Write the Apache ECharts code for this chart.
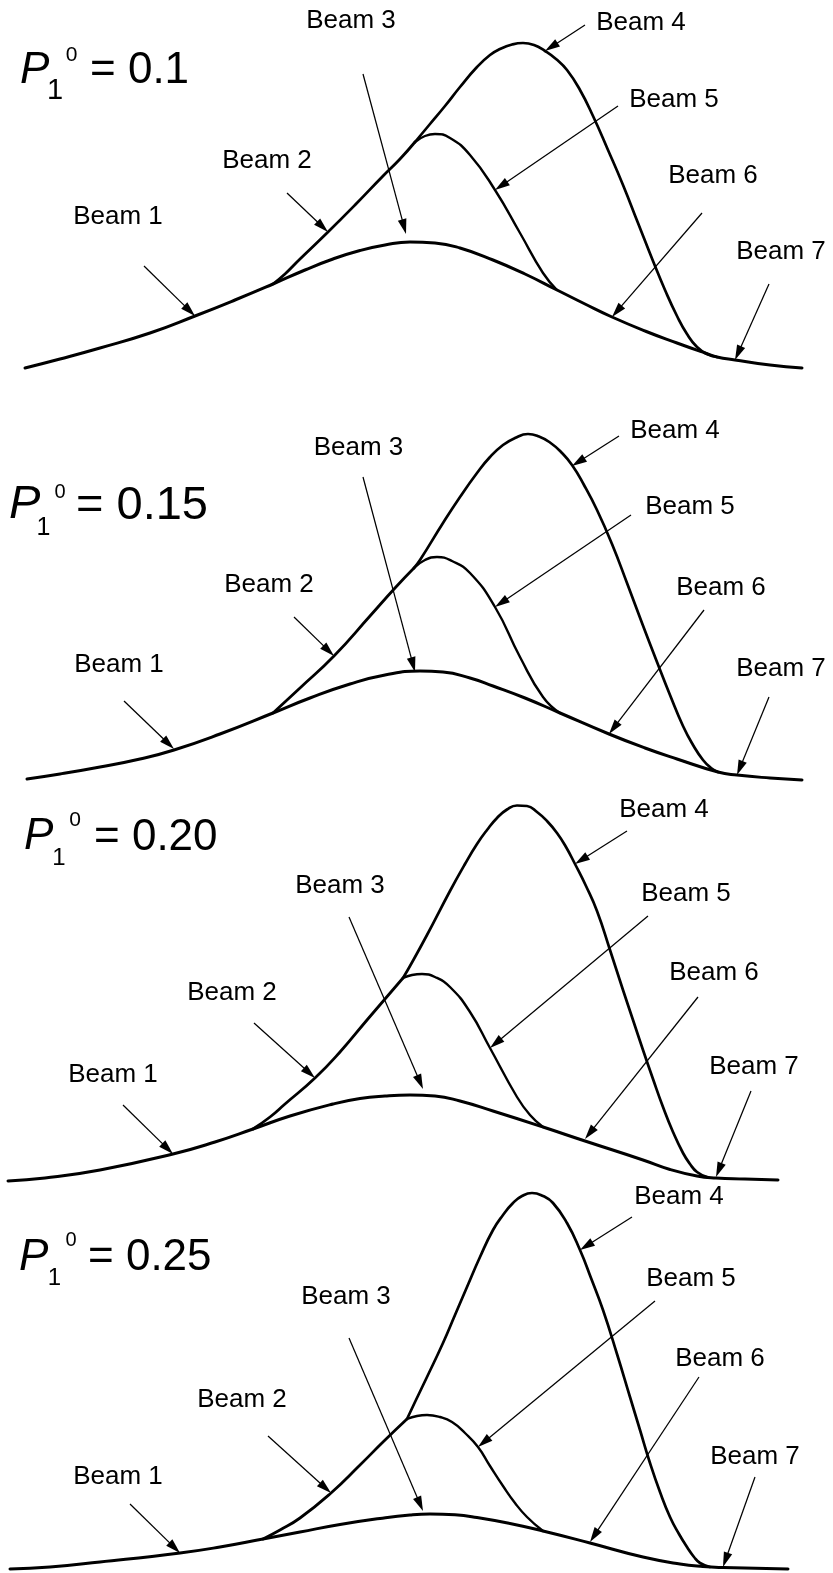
<!DOCTYPE html>
<html>
<head>
<meta charset="utf-8">
<title>Beam intensity profiles</title>
<script src="https://cdn.jsdelivr.net/npm/echarts@6/dist/echarts.min.js"></script>
<style>
  html, body { margin: 0; padding: 0; background: #ffffff; }
  #chart { width: 833px; height: 1573px; }
</style>
</head>
<body>
<div id="chart"></div>
<script>
// ---- data -------------------------------------------------------------
// Labels for the seven beams and the P1^0 value of each panel.
const beamNames = ['Beam 1', 'Beam 2', 'Beam 3', 'Beam 4', 'Beam 5', 'Beam 6', 'Beam 7'];
const pValues = ['0.1', '0.15', '0.20', '0.25'];

// Each curve: [position, intensity] pairs.
// broad = low wide envelope (beams 1, 3, 6, 7)
// rise  = shared flank leaving the envelope (beam 2) up to where beams 4 and 5 split
// tall  = beam 4 ridge, mid = beam 5 ridge
const broad010 = [[25,12],[60,21],[100,32],[150,47],[195,64],[235,80],[273,96],[305,110],[333,121],[360,129.5],[385,135],[410,138],[435,137],[460,132],[493,120],[525,106],[557,90],[585,76],[612,63],[645,49],[677,37],[705,27],[717,23],[735,20],[770,15],[802,12]];
const rise010 = [[273,96],[285,106],[300,121],[328,148],[355,175],[383,204],[400,221],[415,238]];
const tall010 = [[415,238],[430,256],[445,274],[460,293],[477,313],[490,325],[500,331],[512,335.5],[523,337],[534,335],[545,329],[556,321],[567,310],[580,290],[593,264],[608,230],[623,195],[638,157],[653,119],[665,90],[677,64],[687,46],[697,33],[707,26],[717,23]];
const mid010 = [[415,238],[425,244],[435,246],[450,242],[470,225],[495,190],[520,147],[543,107],[557,90]];

const broad015 = [[27,11],[60,16],[100,23],[140,31],[174,40],[220,56],[273,77],[310,92],[350,106],[385,115],[420,119],[443,118],[470,112],[493,104],[525,92],[560,77],[609,56],[645,42],[677,31],[718,18],[737,15],[770,12],[802,10]];
const rise015 = [[273,77],[300,102],[334,134],[370,174],[395,202],[414,222]];
const tall015 = [[414,222],[420,230],[443,267],[460,293],[477,317],[490,333],[503,345],[515,352],[528,356],[539,353.5],[550,347.5],[561,338],[572,325],[584,305],[597,280],[612,246],[627,207],[642,167],[657,128],[670,95],[683,64],[693,45],[703,30],[711,22],[718,18]];
const mid015 = [[414,222],[425,230],[437,233],[452,229],[470,217],[495,183],[520,133],[543,93],[560,77]];

const broad020 = [[8,4],[45,7],[100,15],[173,31],[215,43],[253,56],[290,69],[333,81],[360,86.5],[385,89],[410,90],[435,89],[460,84],[493,74],[543,58],[585,44],[643,25],[670,15.5],[697,9],[716,7],[745,6],[778,5]];
const rise020 = [[253,56],[270,68],[285,81],[315,107],[340,133],[367,165],[385,186],[403,207]];
const tall020 = [[403,207],[410,219],[427,250],[450,294],[465,321],[477,341],[487,355],[497,367],[507,375.5],[517,379.5],[527,379],[537,373],[547,364],[557,352],[566,338],[575,321],[586,299],[597,274],[610,235],[623,195],[633,165],[643,135],[653,106],[663,78],[673,53],[683,32],[690,21],[697,13],[707,8]];
const mid020 = [[403,207],[412,210],[422,211],[435,208],[450,198],[470,173],[490,137],[517,88],[530,70],[543,58]];

const broad025 = [[10,4],[50,6],[100,11],[180,20],[220,26],[263,34],[300,41],[340,48.5],[380,54.5],[410,58],[430,59],[455,58.2],[477,55.5],[510,49.5],[543,42],[590,30],[643,16],[680,9],[703,6.5],[723,5.5],[788,4]];
const rise025 = [[263,34],[280,43],[300,55],[331,80],[360,108],[383,131],[407,154]];
const tall025 = [[407,154],[415,171],[427,196],[443,230],[455,258],[467,286],[480,316],[493,343],[503,358],[513,370],[522,377],[532,380],[543,377],[553,370],[567,350],[580,323],[591,295],[603,263],[617,219],[630,176],[640,143],[650,110],[660,81],[670,56],[679,39],[687,26],[694,16],[700,10],[710,6]];
const mid025 = [[407,154],[417,157],[427,158],[440,156],[452,151],[465,140],[478,126],[490,107],[503,87],[515,70],[527,56],[543,42]];

// Pointer arrows, one per beam in beamNames order: [fromPos, fromInt, toPos, toInt].
const arrows010 = [[144,114,195,64],[287,187,328,148],[363,306,406,146],[585,355,545,329],[618,274,495,190],[702,167,612,63],[769,96,735,20]];
const arrows015 = [[124,89,174,41],[294,173,334,134],[363,313,415,118],[619,354,572,324],[631,275,495,183],[704,180,609,56],[769,93,737,15]];
const arrows020 = [[123,80,173,31],[254,162,315,107],[349,268,423,96],[627,354,575,321],[648,269,490,137],[698,188,585,46],[751,94,716,8]];
const arrows025 = [[130,69,180,20],[268,137,331,80],[349,235,423,62],[632,356,580,323],[655,272,478,126],[699,196,590,31],[755,96,723,6]];

// Anchor of each beam label (centre of the text), beamNames order.
const labels010 = [[118,163.5],[267,219],[351,359.5],[641,357],[674,280.5],[713,204],[781,128.5]];
const labels015 = [[119,125.5],[269,205.5],[358.5,342],[675,359],[690,283],[721,202.5],[781,121]];
const labels020 = [[113,110],[232,192],[340,299],[664,375],[686,291],[714,212],[754,118]];
const labels025 = [[118,96],[242,173],[346,276],[679,376],[691,294],[720,214],[755,116]];

// ---- layout -----------------------------------------------------------
const FONT = '"Liberation Sans", Arial, Helvetica, sans-serif';
const panels = [
  { top: 0,    height: 380, broad: broad010, rise: rise010, tall: tall010, mid: mid010, arrows: arrows010, labels: labels010,
    title: { p: [20, 70.5, 44], sub: [55, 91, 29], sup: [71.5, 55.5, 21], eq: [90, 71, 44] } },
  { top: 380,  height: 410, broad: broad015, rise: rise015, tall: tall015, mid: mid015, arrows: arrows015, labels: labels015,
    title: { p: [9, 505, 47], sub: [43.5, 528, 25], sup: [60, 492, 20], eq: [76, 506, 47] } },
  { top: 790,  height: 395, broad: broad020, rise: rise020, tall: tall020, mid: mid020, arrows: arrows020, labels: labels020,
    title: { p: [24, 837, 44], sub: [59, 858.5, 24], sup: [75, 820.5, 21], eq: [94, 838, 44] } },
  { top: 1185, height: 388, broad: broad025, rise: rise025, tall: tall025, mid: mid025, arrows: arrows025, labels: labels025,
    title: { p: [19, 1257.5, 44], sub: [54.5, 1278.5, 24], sup: [71, 1240, 20], eq: [88, 1258, 44] } }
];

// ---- renderers ----------------------------------------------------------
function renderArrow(params, api) {
  const a = api.coord([api.value(0), api.value(1)]);
  const b = api.coord([api.value(2), api.value(3)]);
  const dx = b[0] - a[0], dy = b[1] - a[1];
  const len = Math.hypot(dx, dy) || 1;
  const ux = dx / len, uy = dy / len;
  const headLen = 15, headHalf = 4.4;
  const bx = b[0] - ux * headLen, by = b[1] - uy * headLen;
  return {
    type: 'group',
    children: [
      { type: 'line', shape: { x1: a[0], y1: a[1], x2: bx + ux * 2, y2: by + uy * 2 },
        style: { stroke: '#000', lineWidth: 1.25 } },
      { type: 'polygon',
        shape: { points: [[b[0], b[1]], [bx - uy * headHalf, by + ux * headHalf], [bx + uy * headHalf, by - ux * headHalf]] },
        style: { fill: '#000' } }
    ]
  };
}

function renderLabel(params, api) {
  const p = api.coord([api.value(0), api.value(1)]);
  return {
    type: 'text', x: p[0], y: p[1],
    style: { text: beamNames[params.dataIndex], fontSize: 26, fontFamily: FONT, fill: '#000',
             align: 'center', verticalAlign: 'middle' }
  };
}

// ---- option -------------------------------------------------------------
const grid = [], xAxis = [], yAxis = [], series = [], graphic = [];

panels.forEach((pn, k) => {
  grid.push({ left: 0, width: 833, top: pn.top, height: pn.height, containLabel: false });
  xAxis.push({ type: 'value', gridIndex: k, min: 0, max: 833, show: false });
  yAxis.push({ type: 'value', gridIndex: k, min: 0, max: pn.height, show: false });

  const curve = (data, width) => ({
    type: 'line', xAxisIndex: k, yAxisIndex: k, data: data, smooth: 0.5,
    showSymbol: false, symbol: 'none', silent: true, clip: false,
    lineStyle: { color: '#000', width: width, cap: 'round', join: 'round' }
  });
  series.push(curve(pn.broad, 3));
  series.push(curve(pn.rise, 2.8));
  series.push(curve(pn.tall, 2.7));
  series.push(curve(pn.mid, 2.4));

  series.push({
    type: 'custom', xAxisIndex: k, yAxisIndex: k, silent: true, clip: false,
    encode: { x: [0, 2], y: [1, 3] },
    data: pn.arrows, renderItem: renderArrow
  });
  series.push({
    type: 'custom', xAxisIndex: k, yAxisIndex: k, silent: true, clip: false,
    encode: { x: 0, y: 1 },
    data: pn.labels, renderItem: renderLabel
  });

  // Panel heading: P with subscript 1 and superscript 0, then "= value".
  const t = pn.title;
  const txt = (text, x, y, size, align, italic) => ({
    type: 'text', x: x, y: y, silent: true,
    style: { text: text, fontSize: size, fontFamily: FONT, fontStyle: italic ? 'italic' : 'normal',
             fill: '#000', align: align, verticalAlign: 'middle',
             textAlign: align, textVerticalAlign: 'middle' }
  });
  graphic.push(txt('P', t.p[0], t.p[1], t.p[2], 'left', true));
  graphic.push(txt('1', t.sub[0], t.sub[1], t.sub[2], 'center', false));
  graphic.push(txt('0', t.sup[0], t.sup[1], t.sup[2], 'center', false));
  graphic.push(txt('= ' + pValues[k], t.eq[0], t.eq[1], t.eq[2], 'left', false));
});

const chart = echarts.init(document.getElementById('chart'), null, { renderer: 'canvas' });
chart.setOption({
  backgroundColor: '#ffffff',
  animation: false,
  grid: grid,
  xAxis: xAxis,
  yAxis: yAxis,
  series: series,
  graphic: graphic
});
</script>
</body>
</html>
